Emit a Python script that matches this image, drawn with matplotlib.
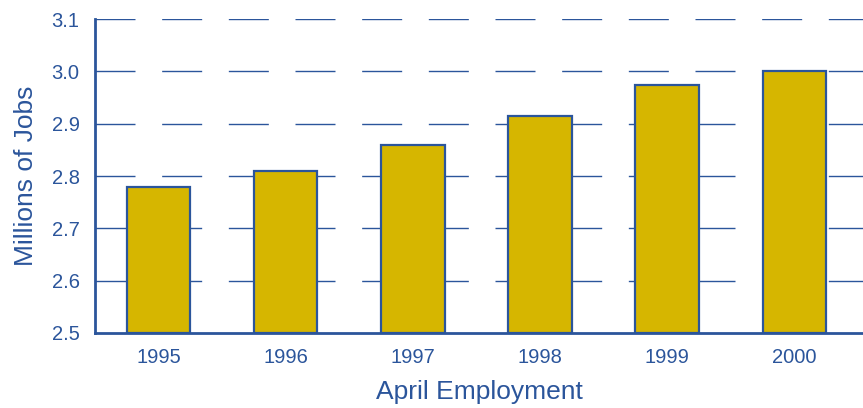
import matplotlib
matplotlib.use("Agg")
from matplotlib import pyplot as plt

years = ["1995", "1996", "1997", "1998", "1999", "2000"]
jobs = [2.78, 2.81, 2.86, 2.915, 2.975, 3.00]
y_ticks = [2.5, 2.6, 2.7, 2.8, 2.9, 3.0, 3.1]

blue = "#2B559B"
gold = "#D6B600"

plt.rcParams["font.family"] = ["Liberation Sans", "DejaVu Sans"]

fig = plt.figure(figsize=(8.63, 4.08), dpi=100)
ax = fig.add_axes([0.110, 0.184, 0.890, 0.769])

x = list(range(len(years)))
ax.bar(x, [v - 2.5 for v in jobs], bottom=2.5, width=0.5,
       color=gold, edgecolor=blue, linewidth=1.6, zorder=3)

ax.set_ylim(2.5, 3.1)
ax.set_xlim(-0.5, 5.54)
ax.set_yticks(y_ticks)
ax.set_yticklabels([f"{t:.1f}" for t in y_ticks])
ax.set_xticks(x)
ax.set_xticklabels(years)

# dashed horizontal grid behind bars
for t in y_ticks[1:]:
    ax.axhline(t, color=blue, linewidth=1.0, dashes=(28.8, 19.2), zorder=1)

for side in ["top", "right"]:
    ax.spines[side].set_visible(False)
for side in ["left", "bottom"]:
    ax.spines[side].set_color(blue)
    ax.spines[side].set_linewidth(2.0)
    ax.spines[side].set_zorder(4)

ax.tick_params(axis="both", length=0, labelsize=14.5, colors=blue)
ax.tick_params(axis="y", pad=11)
ax.tick_params(axis="x", pad=11)

ax.set_xlabel("April Employment", fontsize=19, color=blue, labelpad=9)
ax.set_ylabel("Millions of Jobs", fontsize=19, color=blue, labelpad=10)

fig.savefig("out.png", dpi=100)
